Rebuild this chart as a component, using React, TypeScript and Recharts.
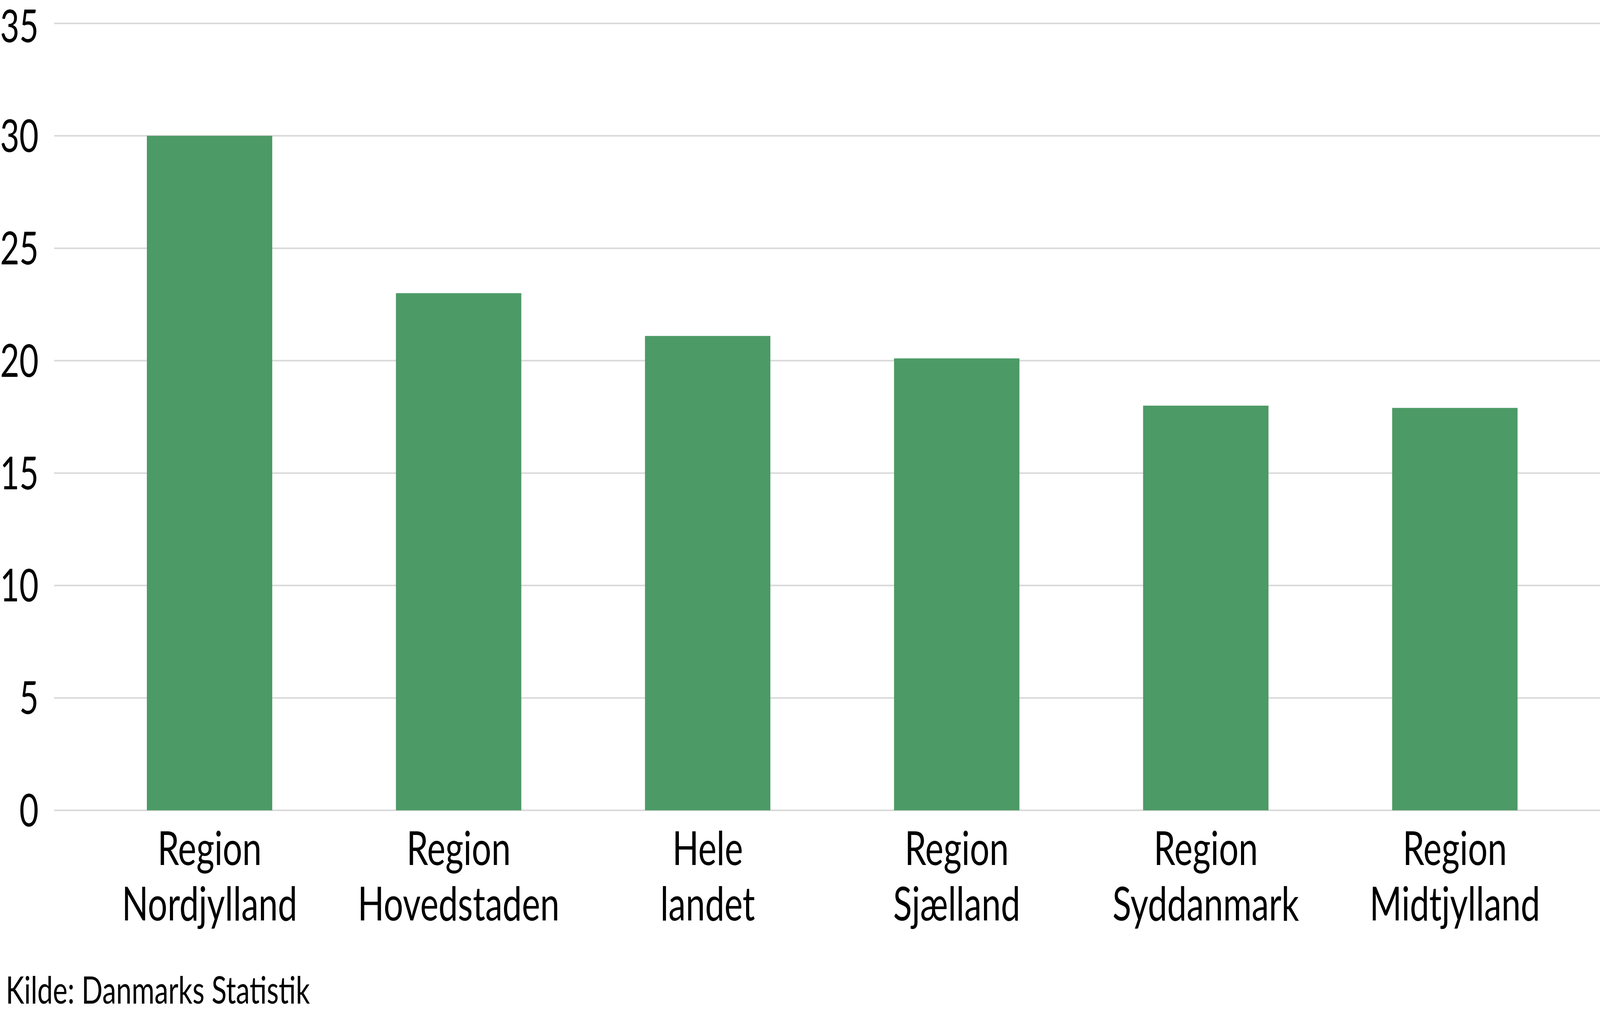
import React from "react";
import { BarChart, Bar, XAxis, YAxis, CartesianGrid } from "recharts";

const regions = [
  "Region Nordjylland",
  "Region Hovedstaden",
  "Hele landet",
  "Region Sjælland",
  "Region Syddanmark",
  "Region Midtjylland",
];
const shares = [30.0, 23.0, 21.1, 20.1, 18.0, 17.9];
const yTicks = [0, 5, 10, 15, 20, 25, 30, 35];

const data = regions.map((name, i) => ({ name, value: shares[i] }));

const FONT = "Lato, 'Open Sans', sans-serif";
// design size of the reference
const W = 5589;
const H = 2594;

const CategoryTick = (props: any) => {
  const { x, y, payload } = props;
  const words = String(payload.value).split(" ");
  const first = words[0];
  const rest = words.slice(1).join(" ");
  return (
    <text x={x} y={y} textAnchor="middle" fill="#000" fontFamily={FONT} fontSize={121}>
      <tspan x={x} dy={140}>{first}</tspan>
      <tspan x={x} dy={142}>{rest}</tspan>
    </text>
  );
};

const App = () => {
  // the browser window can be narrower than the design size, so fit it
  const vw = typeof window !== "undefined" ? window.innerWidth : W;
  const vh = typeof window !== "undefined" ? window.innerHeight : H;
  const sx = Math.min(1, vw / W);
  const sy = Math.min(1, vh / H);
  return (
    <div style={{ position: "absolute", left: 0, top: 0, width: W * sx, height: H * sy, overflow: "hidden", background: "#fff" }}>
      <div style={{ width: W, height: H, transform: `scale(${sx}, ${sy})`, transformOrigin: "0 0", position: "relative" }}>
        <BarChart
          width={W}
          height={H}
          data={data}
          margin={{ top: 60, right: 0, bottom: 189, left: 0 }}
        >
          <CartesianGrid vertical={false} stroke="#d9d9d9" strokeWidth={4} />
          <XAxis
            dataKey="name"
            height={330}
            axisLine={false}
            tickLine={false}
            tickSize={0}
            tickMargin={0}
            padding={{ left: 108, right: 72 }}
            interval={0}
            tick={<CategoryTick />}
          />
          <YAxis
            width={189}
            domain={[0, 35]}
            ticks={yTicks}
            axisLine={false}
            tickLine={false}
            tickSize={0}
            tickMargin={54}
            tick={{ fill: "#000", fontSize: 116, fontFamily: FONT }}
          />
          <Bar dataKey="value" fill="#4c9a66" barSize={438} isAnimationActive={false} />
        </BarChart>
        <svg width={W} height={H} style={{ position: "absolute", left: 0, top: 0, pointerEvents: "none" }}>
          <text x={20} y={2570} fill="#000" fontFamily={FONT} fontSize={97}>
            Kilde: Danmarks Statistik
          </text>
        </svg>
      </div>
    </div>
  );
};

export default App;
